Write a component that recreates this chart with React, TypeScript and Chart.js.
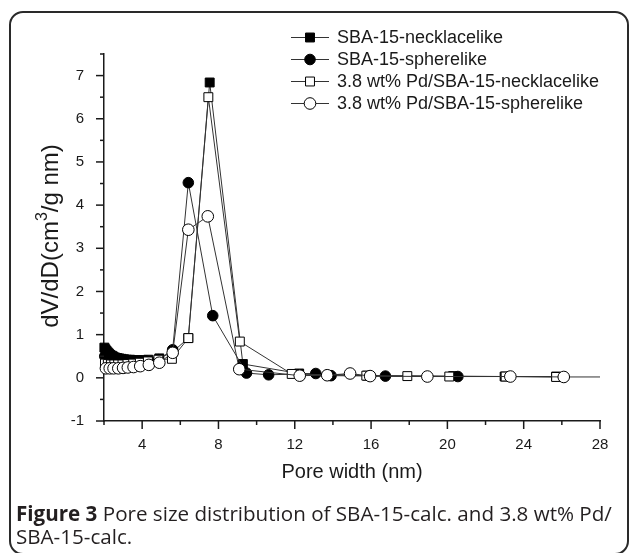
import React, { useEffect, useRef } from 'react';
import { Chart, registerables } from 'chart.js';

Chart.register(...registerables);

// ---------------- data ----------------
const SERIES_NAMES = [
  'SBA-15-necklacelike',
  'SBA-15-spherelike',
  '3.8 wt% Pd/SBA-15-necklacelike',
  '3.8 wt% Pd/SBA-15-spherelike',
];

const NECK_X = [2.02, 2.08, 2.14, 2.2, 2.27, 2.34, 2.42, 2.5, 2.59, 2.69, 2.8, 2.92, 3.05, 3.2, 3.37, 3.56, 3.78, 4.03, 4.32, 4.9, 5.6, 6.42, 7.54, 9.28, 12.23, 15.8, 20.3, 23.0, 25.7];
const NECK_Y = [0.7, 0.66, 0.62, 0.59, 0.56, 0.53, 0.51, 0.49, 0.47, 0.46, 0.45, 0.44, 0.43, 0.42, 0.42, 0.41, 0.41, 0.41, 0.42, 0.45, 0.6, 0.92, 6.84, 0.32, 0.1, 0.05, 0.04, 0.03, 0.03];

const SPHERE_X = [2.04, 2.12, 2.21, 2.31, 2.42, 2.55, 2.7, 2.87, 3.07, 3.3, 3.57, 3.9, 4.3, 4.85, 5.6, 6.42, 7.7, 9.47, 10.63, 13.1, 13.9, 16.75, 20.55];
const SPHERE_Y = [0.5, 0.47, 0.44, 0.42, 0.4, 0.39, 0.38, 0.37, 0.36, 0.36, 0.36, 0.37, 0.38, 0.42, 0.65, 4.52, 1.44, 0.11, 0.07, 0.1, 0.05, 0.04, 0.03];

const PD_NECK_X = [2.05, 2.2, 2.36, 2.54, 2.74, 2.97, 3.23, 3.53, 3.88, 4.3, 4.85, 5.56, 6.42, 7.47, 9.12, 11.84, 15.75, 17.9, 20.1, 23.05, 25.7];
const PD_NECK_Y = [0.33, 0.32, 0.31, 0.31, 0.31, 0.31, 0.32, 0.33, 0.35, 0.38, 0.42, 0.44, 0.92, 6.5, 0.84, 0.09, 0.05, 0.04, 0.03, 0.03, 0.02];

const PD_SPHERE_X = [2.1, 2.3, 2.5, 2.75, 3.0, 3.25, 3.55, 3.9, 4.35, 4.9, 5.6, 6.42, 7.44, 9.09, 12.26, 13.7, 14.9, 15.95, 18.95, 23.3, 26.1, 28.6];
const PD_SPHERE_Y = [0.22, 0.22, 0.22, 0.22, 0.23, 0.24, 0.25, 0.27, 0.3, 0.35, 0.58, 3.43, 3.74, 0.2, 0.05, 0.06, 0.1, 0.04, 0.03, 0.03, 0.02, 0.02];

const X_MIN = 2;
const X_MAX = 28;
const X_MINOR_STEP = 2;
const X_LABEL_STEP = 4;
const Y_MIN = -1;
const Y_MAX = 7.5;
const Y_MINOR_STEP = 0.5;

const X_TITLE = 'Pore width (nm)';
const Y_TITLE_PARTS = ['dV/dD(cm', '3', '/g nm)'];
const CAPTION_BOLD = 'Figure 3';
const CAPTION_LINE1 = ' Pore size distribution of SBA-15-calc. and 3.8 wt% Pd/';
const CAPTION_LINE2 = 'SBA-15-calc.';

// ---------------- styles ----------------
const FONT = "'Liberation Sans', Arial, sans-serif";
const INK = '#1a1a1a';
const LINE_COLOR = '#333333';

const MARKERS = [
  { style: 'rect', fill: '#000000', radius: 6.3 },
  { style: 'circle', fill: '#000000', radius: 5.3 },
  { style: 'rect', fill: '#ffffff', radius: 6.3 },
  { style: 'circle', fill: '#ffffff', radius: 5.8 },
];

const SERIES_X = [NECK_X, SPHERE_X, PD_NECK_X, PD_SPHERE_X];
const SERIES_Y = [NECK_Y, SPHERE_Y, PD_NECK_Y, PD_SPHERE_Y];

function drawMarker(ctx: CanvasRenderingContext2D, m: any, x: number, y: number) {
  ctx.save();
  ctx.fillStyle = m.fill;
  ctx.strokeStyle = '#000';
  ctx.lineWidth = 1;
  ctx.beginPath();
  if (m.style === 'rect') {
    const s = Math.SQRT1_2 * m.radius;
    ctx.rect(x - s, y - s, 2 * s, 2 * s);
  } else {
    ctx.arc(x, y, m.radius, 0, Math.PI * 2);
  }
  ctx.fill();
  ctx.stroke();
  ctx.restore();
}

const decorPlugin = {
  id: 'decor',
  afterDraw(chart: any) {
    const { ctx, chartArea, scales } = chart;
    const xs = scales.x;
    const ys = scales.y;
    ctx.save();
    ctx.strokeStyle = INK;
    ctx.lineWidth = 1.5;
    // x ticks (outward)
    for (let v = X_MIN; v <= X_MAX + 1e-9; v += X_MINOR_STEP) {
      const px = xs.getPixelForValue(v);
      const len = Math.abs(v % X_LABEL_STEP) < 1e-9 ? 8 : 4;
      ctx.beginPath();
      ctx.moveTo(px, chartArea.bottom);
      ctx.lineTo(px, chartArea.bottom + len);
      ctx.stroke();
    }
    // y ticks (outward)
    for (let v = Y_MIN; v <= Y_MAX + 1e-9; v += Y_MINOR_STEP) {
      const py = ys.getPixelForValue(v);
      const len = Math.abs(v - Math.round(v)) < 1e-9 ? 8 : 4;
      ctx.beginPath();
      ctx.moveTo(chartArea.left - len, py);
      ctx.lineTo(chartArea.left, py);
      ctx.stroke();
    }

    // x title
    ctx.fillStyle = INK;
    ctx.font = `20px ${FONT}`;
    ctx.textAlign = 'center';
    ctx.textBaseline = 'middle';
    ctx.fillText(X_TITLE, (chartArea.left + chartArea.right) / 2, chartArea.bottom + 51);

    // y title with superscript
    const big = `24px ${FONT}`;
    const small = `16px ${FONT}`;
    ctx.font = big;
    const w0 = ctx.measureText(Y_TITLE_PARTS[0]).width;
    const w2 = ctx.measureText(Y_TITLE_PARTS[2]).width;
    ctx.font = small;
    const w1 = ctx.measureText(Y_TITLE_PARTS[1]).width;
    const total = w0 + w1 + w2;
    ctx.translate(58, 236);
    ctx.rotate(-Math.PI / 2);
    ctx.textAlign = 'left';
    ctx.textBaseline = 'alphabetic';
    let cx = -total / 2;
    ctx.font = big;
    ctx.fillText(Y_TITLE_PARTS[0], cx, 0);
    cx += w0;
    ctx.font = small;
    ctx.fillText(Y_TITLE_PARTS[1], cx, -11);
    cx += w1;
    ctx.font = big;
    ctx.fillText(Y_TITLE_PARTS[2], cx, 0);
    ctx.restore();

    // legend
    ctx.save();
    const lx0 = 291;
    const lx1 = 329;
    const mx = 310;
    const tx = 337;
    const rowY = [37, 59, 81, 103];
    ctx.font = `18px ${FONT}`;
    ctx.textAlign = 'left';
    ctx.textBaseline = 'middle';
    SERIES_NAMES.forEach((name, i) => {
      const y = rowY[i];
      ctx.strokeStyle = LINE_COLOR;
      ctx.lineWidth = 1;
      ctx.beginPath();
      ctx.moveTo(lx0, y + 0.5);
      ctx.lineTo(lx1, y + 0.5);
      ctx.stroke();
      drawMarker(ctx, MARKERS[i], mx, y + 0.5);
      ctx.fillStyle = INK;
      ctx.fillText(name, tx, y + 1);
    });
    ctx.restore();
  },
};

export default function App() {
  const canvasRef = useRef<HTMLCanvasElement | null>(null);

  useEffect(() => {
    const canvas = canvasRef.current;
    if (!canvas) return;
    const datasets = SERIES_NAMES.map((name, i) => ({
      label: name,
      data: SERIES_X[i].map((x, j) => ({ x, y: SERIES_Y[i][j] })),
      borderColor: LINE_COLOR,
      borderWidth: 1,
      backgroundColor: MARKERS[i].fill,
      pointStyle: MARKERS[i].style,
      pointRadius: MARKERS[i].radius,
      pointBackgroundColor: MARKERS[i].fill,
      pointBorderColor: '#000000',
      pointBorderWidth: 1,
      tension: 0,
      order: 4 - i,
      clip: { left: 10, top: 10, right: 0, bottom: 10 },
    }));

    const chart = new Chart(canvas, {
      type: 'line',
      data: { datasets },
      options: {
        animation: false,
        responsive: false,
        devicePixelRatio: 1,
        layout: { padding: { left: 0, right: 30, top: 54, bottom: 0 } },
        plugins: {
          legend: { display: false },
          tooltip: { enabled: false },
          title: { display: false },
        },
        scales: {
          x: {
            type: 'linear',
            min: X_MIN,
            max: X_MAX,
            afterFit: (s: any) => { s.height = 79; },
            grid: { display: false },
            border: { display: true, color: INK, width: 1.5 },
            ticks: {
              stepSize: X_MINOR_STEP,
              autoSkip: false,
              maxRotation: 0,
              padding: 7,
              color: INK,
              font: { family: FONT, size: 15 },
              callback: (v: any) => (Math.abs(Number(v) % X_LABEL_STEP) < 1e-9 ? String(v) : ''),
            },
          },
          y: {
            type: 'linear',
            min: Y_MIN,
            max: Y_MAX,
            afterFit: (s: any) => { s.width = 104; },
            grid: { display: false },
            border: { display: true, color: INK, width: 1.5 },
            ticks: {
              stepSize: Y_MINOR_STEP,
              autoSkip: false,
              padding: 12,
              color: INK,
              font: { family: FONT, size: 15 },
              callback: (v: any) => {
                const n = Number(v);
                return Math.abs(n - Math.round(n)) < 1e-9 ? String(Math.round(n)) : '';
              },
            },
          },
        },
      },
      plugins: [decorPlugin],
    } as any);

    return () => chart.destroy();
  }, []);

  return (
    <div style={{ position: 'absolute', left: 0, top: 0, width: 630, height: 553, background: '#fff', overflow: 'hidden' }}>
      <div
        style={{
          position: 'absolute',
          left: 9,
          top: 11,
          width: 616,
          height: 540,
          border: '2px solid #2a2a2a',
          borderRadius: 14,
        }}
      />
      <canvas ref={canvasRef} width={630} height={500} style={{ position: 'absolute', left: 0, top: 0, width: 630, height: 500 }} />
      <div
        style={{
          position: 'absolute',
          left: 16,
          top: 502,
          fontFamily: "'Open Sans', 'Noto Sans', sans-serif",
          fontSize: 20.6,
          lineHeight: '23px',
          color: '#231f20',
          whiteSpace: 'nowrap',
        }}
      >
        <b style={{ fontWeight: 700 }}>{CAPTION_BOLD}</b>
        {CAPTION_LINE1}
        <br />
        {CAPTION_LINE2}
      </div>
    </div>
  );
}
